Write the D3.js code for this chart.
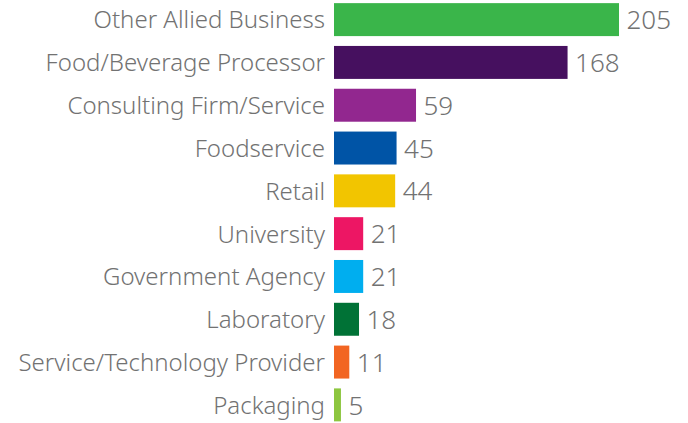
<!DOCTYPE html>
<html>
<head>
<meta charset="utf-8">
<script src="https://cdn.jsdelivr.net/npm/d3@7"></script>
<style>
  html, body { margin: 0; padding: 0; background: #fff; }
  svg text { font-family: "Noto Sans", "Open Sans", sans-serif; font-weight: 300; fill: #727272; }
</style>
</head>
<body>
<svg id="chart" width="688" height="423"></svg>
<script>
const categories = [
  "Other Allied Business", "Food/Beverage Processor", "Consulting Firm/Service",
  "Foodservice", "Retail", "University", "Government Agency",
  "Laboratory", "Service/Technology Provider", "Packaging"
];
const counts = [205, 168, 59, 45, 44, 21, 21, 18, 11, 5];
const colors = [
  "#3AB54A", "#46105F", "#92278F", "#0054A6", "#F2C500",
  "#ED1664", "#00AEEF", "#007236", "#F26522", "#8DC63F"
];

const rows = categories.map((c, i) => ({ name: c, value: counts[i], color: colors[i] }));

const svg = d3.select("#chart");
const left = 334;

const x = d3.scaleLinear().domain([0, 205]).range([left, 619]);
const y = d3.scaleBand()
  .domain(categories)
  .range([-2, 426.5])
  .paddingInner(0.23)
  .paddingOuter(0.12);

const g = svg.append("g");

g.selectAll("rect.bar")
  .data(rows)
  .enter().append("rect")
  .attr("class", "bar")
  .attr("x", x(0))
  .attr("y", d => y(d.name))
  .attr("width", d => x(d.value) - x(0))
  .attr("height", y.bandwidth())
  .attr("fill", d => d.color);

g.selectAll("text.cat")
  .data(rows)
  .enter().append("text")
  .attr("class", "cat")
  .attr("x", left - 9)
  .attr("y", d => y(d.name) + y.bandwidth() / 2)
  .attr("dy", "0.37em")
  .attr("text-anchor", "end")
  .style("font-size", "24px")
  .text(d => d.name);

g.selectAll("text.val")
  .data(rows)
  .enter().append("text")
  .attr("class", "val")
  .attr("x", d => x(d.value) + 7.5)
  .attr("y", d => y(d.name) + y.bandwidth() / 2)
  .attr("dy", "0.37em")
  .style("font-size", "26px")
  .text(d => d.value);
</script>
</body>
</html>
